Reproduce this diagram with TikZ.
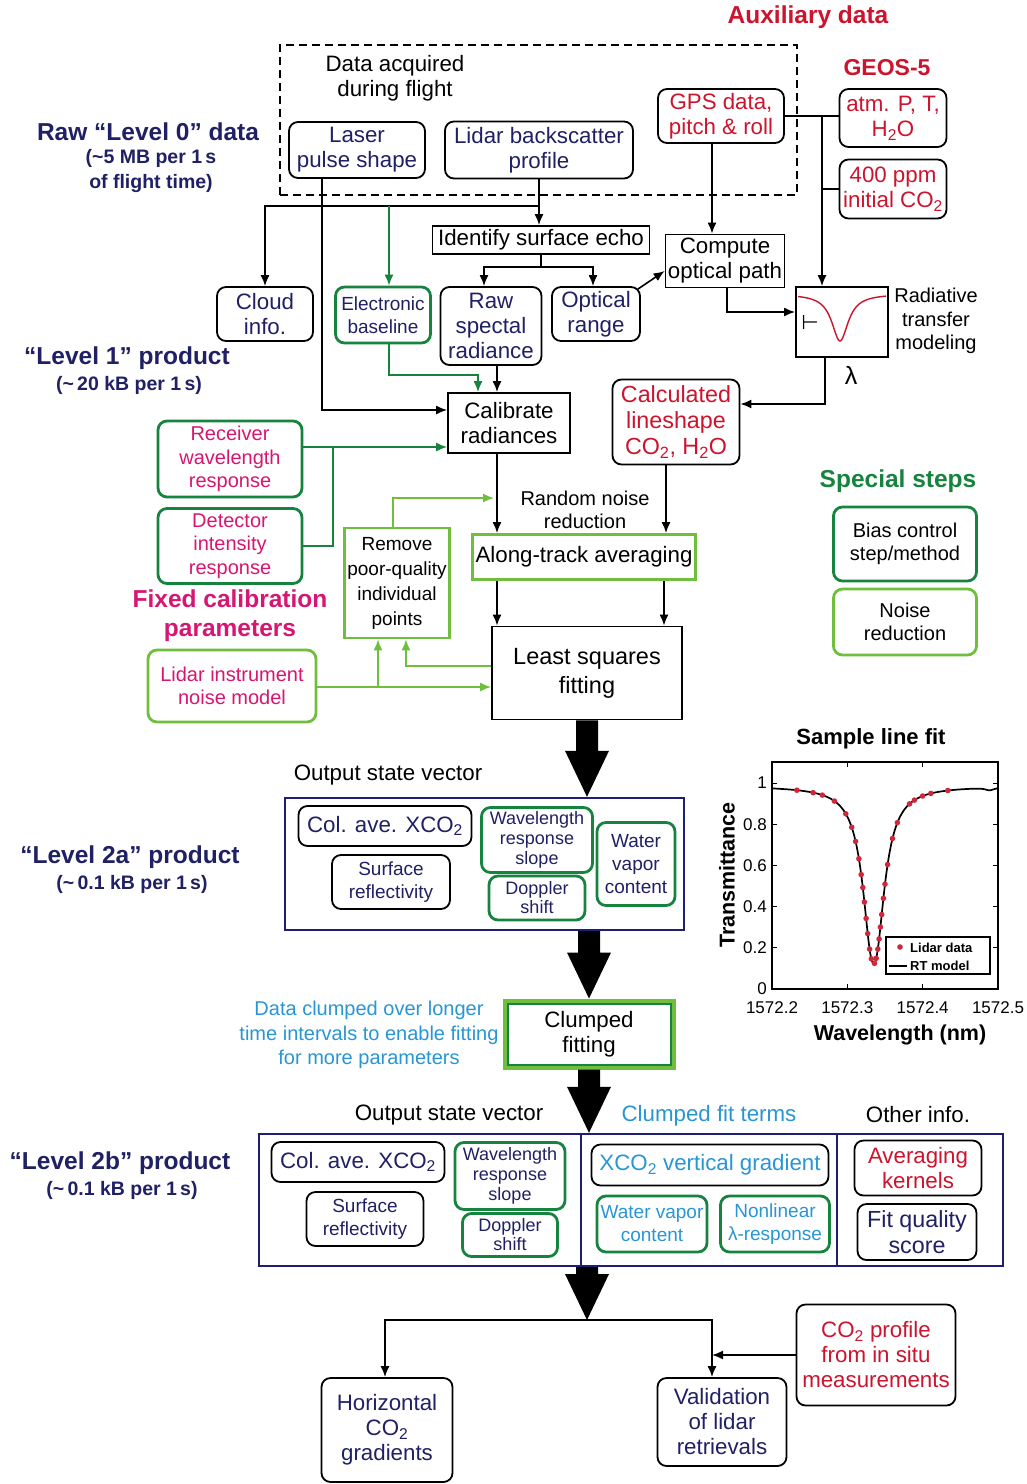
\documentclass[tikz,border=0pt]{standalone}
\usepackage{fontspec}
\setmainfont{Liberation Sans}
\newfontfamily\dejavu{DejaVu Sans}
\usetikzlibrary{arrows.meta,calc}
\definecolor{navy}{RGB}{32,32,100}
\definecolor{auxred}{RGB}{204,20,46}
\definecolor{calmag}{RGB}{214,22,112}
\definecolor{dgreen}{RGB}{22,132,62}
\definecolor{lgreen}{RGB}{112,190,62}
\definecolor{cblue}{RGB}{40,150,212}
\definecolor{boxnavy}{RGB}{30,30,120}
\definecolor{dotred}{RGB}{205,40,60}
\newcommand\mybigarrow[2]{\fill let \p1=(#1), \p2=(#2) in (\x1-11pt,\y1) -- (\x1+11pt,\y1) -- (\x1+11pt,\y2+46pt) -- (\x1+22pt,\y2+46pt) -- (\x1,\y2) -- (\x1-22pt,\y2+46pt) -- (\x1-11pt,\y2+46pt) -- cycle;}
\begin{document}
\begin{tikzpicture}[x=1pt,y=-1pt,
 rb/.style={draw, rounded corners=9pt, line width=1.8pt, align=center, inner sep=0pt},
 sb/.style={draw, line width=1.8pt, align=center, inner sep=0pt},
 gb/.style={rb, draw=dgreen, line width=2.8pt},
 lb/.style={rb, draw=lgreen, line width=2.8pt},
 lsb/.style={sb, draw=lgreen, line width=2.8pt},
 wh/.style 2 args={minimum width=#1pt, minimum height=#2pt},
 tx/.style={align=center, inner sep=0pt},
 arr/.style={line width=1.6pt, -{Latex[length=11pt,width=9pt]}},
 ln/.style={line width=1.6pt},
 garr/.style={arr, dgreen},
 gln/.style={ln, dgreen},
 larr/.style={arr, lgreen},
 f18/.style={font=\fontsize{18}{20}\selectfont},
 f19/.style={font=\fontsize{19}{23}\selectfont},
 f20/.style={font=\fontsize{20}{23.5}\selectfont},
 f22/.style={font=\fontsize{22.3}{25}\selectfont},
 f23/.style={font=\fontsize{23.3}{26}\selectfont},
 hd/.style={tx, font=\fontsize{24.5}{28}\selectfont\bfseries, text=navy},
 hs/.style={tx, font=\fontsize{19.5}{25}\selectfont\bfseries, text=navy},
 bt/.style={tx, font=\fontsize{24.5}{29}\selectfont\bfseries},
 tk/.style={tx, font=\fontsize{17}{17}\selectfont},
 ax/.style={tx, font=\fontsize{21.5}{21.5}\selectfont\bfseries}
]
\useasboundingbox (0,0) rectangle (1027,1484);
\fill[white] (0,0) rectangle (1027,1484);

% ---------- headings
\node[bt, text=auxred] (auxt) at (808,17) {Auxiliary data};
\node[bt, text=auxred, font=\fontsize{23}{23}\selectfont\bfseries] (geos) at (887,68) {GEOS-5};
\node[hd] (h0) at (148,132) {Raw “Level 0” data};
\node[hs] (h0s) at (151,171) {(\textasciitilde5 MB per 1\,s\\of flight time)};
\node[hd] (h1) at (127,358) {“Level 1” product};
\node[hs] (h1s) at (129,385) {(\textasciitilde\,20 kB per 1\,s)};
\node[bt, text=calmag] (fixl) at (230,616) {Fixed calibration\\parameters};
\node[bt, text=dgreen] (spec) at (898,481) {Special steps};
\node[hd] (h2a) at (130,857) {“Level 2a” product};
\node[hs] (h2as) at (132,884) {(\textasciitilde\,0.1 kB per 1\,s)};
\node[hd] (h2b) at (120,1163) {“Level 2b” product};
\node[hs] (h2bs) at (122,1190) {(\textasciitilde\,0.1 kB per 1\,s)};

% ---------- level 0
\node[draw, dash pattern=on 8pt off 5pt, line width=1.8pt, wh={517}{150}, inner sep=0pt] (dbox) at (538.5,120) {};
\node[tx, f22] (daq) at (395,78) {Data acquired\\during flight};
\node[rb, wh={136}{56}, f22, text=navy] (laser) at (357,150) {Laser\\pulse shape};
\node[rb, wh={188}{57}, f22, text=navy] (lidar) at (539,150) {Lidar backscatter\\profile};
\node[rb, wh={126}{54}, f22, text=auxred] (gps) at (721,116) {GPS data,\\pitch \& roll};
\node[rb, wh={107}{58}, f22, text=auxred] (atm) at (893,118) {atm. P, T,\\H\textsubscript{2}O};
\node[rb, wh={107}{59}, f22, text=auxred] (ppm) at (893,189) {400 ppm\\initial CO\textsubscript{2}};

% ---------- level 1 area
\node[sb, wh={217}{28}, f22] (ident) at (541,240) {Identify surface echo};
\node[rb, wh={96}{54}, f22, text=navy] (cloud) at (265,314) {Cloud\\info.};
\node[gb, wh={95}{56}, f19, text=navy] (ebase) at (383,315) {Electronic\\baseline};
\node[rb, wh={101}{78}, f22, text=navy] (raw) at (491,326) {Raw\\spectal\\radiance};
\node[rb, wh={88}{54}, f22, text=navy] (optr) at (596,314) {Optical\\range};
\node[sb, wh={119}{53}, f22] (comp) at (725,261) {Compute\\optical path};
\node[sb, wh={92}{70}] (rt) at (842,322) {};
\draw[auxred, line width=1.4pt] plot[domain=-42:46, samples=90, smooth] ({840+\x},{294+47*100/(\x*\x+100)});
\node[tx, font={\dejavu\fontsize{20}{20}\selectfont}] (turn) at (810,322) {⊢};
\node[tx, f20] (rtl) at (936,321) {Radiative\\transfer\\modeling};
\node[tx, font=\fontsize{25}{25}\selectfont] (lam) at (851,375) {λ};
\node[rb, wh={127}{85}, f23, text=auxred] (calc) at (676,422) {Calculated\\lineshape\\CO\textsubscript{2}, H\textsubscript{2}O};
\node[sb, wh={122}{60}, f22] (cal) at (509,423) {Calibrate\\radiances};
\node[gb, wh={144}{76}, f20, text=calmag] (recv) at (230,459) {Receiver\\wavelength\\response};
\node[gb, wh={144}{75}, f20, text=calmag] (det) at (230,546) {Detector\\intensity\\response};
\node[tx, f20] (rnr) at (585,510) {Random noise\\reduction};
\node[lsb, wh={105}{110}, font=\fontsize{19}{25}\selectfont] (remove) at (397,583) {Remove\\poor-quality\\individual\\points};
\node[lsb, wh={223}{45}, f22] (along) at (584,557) {Along-track averaging};
\node[sb, wh={190}{93}, font=\fontsize{23.5}{29}\selectfont] (ls) at (587,673) {Least squares\\fitting};
\node[lb, wh={168}{72}, f20, text=calmag] (lnoise) at (232,686) {Lidar instrument\\noise model};
\node[gb, wh={143}{74}, f20] (bias) at (905,544) {Bias control\\step/method};
\node[lb, wh={143}{66}, f20] (nred) at (905,622) {Noise\\reduction};

% ---------- connectors level 0/1
\coordinate (j1) at (539,206);
\coordinate (j3) at (822,116);
\coordinate (j4) at (333,447);
\coordinate (nr) at (494,498);
\draw[arr] (lidar.south) -- (lidar.south |- ident.north);
\draw[arr] (j1) -| (cloud.north);
\draw[garr] ([xshift=6pt]ebase.north |- j1) -- ([xshift=6pt]ebase.north);
\draw[arr] ([xshift=-35pt]laser.south) |- ([yshift=13pt]cal.west);
\draw[ln] (ident.south) -- ([yshift=-12pt]ident.south) coordinate (j2);
\draw[arr] (j2) -| ([xshift=-7pt]raw.north);
\draw[arr] (j2) -| ([xshift=-3pt]optr.north);
\draw[arr] ([shift={(-3pt,-3pt)}]optr.north east) -- ([yshift=-10pt]comp.west);
\draw[arr] ([xshift=-9pt]gps.south) -- ([xshift=-9pt]gps.south |- comp.north);
\draw[ln] (gps.east) -- (gps.east -| atm.west);
\draw[arr] (j3) -- (j3 |- rt.north);
\draw[ln] (ppm.west) -- (ppm.west -| j3);
\draw[arr] ([xshift=2pt]comp.south) |- ([yshift=10pt]rt.west);
\draw[arr] ([xshift=-17pt]rt.south) |- ([yshift=18pt]calc.east);
\draw[arr] ([xshift=-10pt]calc.south) -- ([xshift=-10pt]calc.south |- along.north);
\draw[garr] ([xshift=6pt]ebase.south) |- ([xshift=-31pt,yshift=17pt]cal.north) -- ([xshift=-31pt]cal.north);
\draw[arr] ([xshift=-12pt]cal.north |- raw.south) -- ([xshift=-12pt]cal.north);
\draw[garr] ([yshift=12pt]recv.east) -- ([yshift=-24pt]cal.west);
\draw[gln] (det.east) -| (j4);
\draw[arr] ([xshift=-12pt]cal.south) -- ([xshift=-12pt]cal.south |- along.north);
\draw[larr] ([xshift=-4pt]remove.north) |- (nr);
\draw[arr] ([xshift=-87pt]along.south) -- ([xshift=-87pt]along.south |- ls.north);
\draw[arr] ([xshift=80pt]along.south) -- ([xshift=80pt]along.south |- ls.north);
\draw[larr] ([yshift=-1pt]lnoise.east) -- ([yshift=-1pt]lnoise.east -| ls.west);
\draw[larr] ([xshift=-19pt,yshift=-1pt]remove.south |- lnoise.east) -- ([xshift=-19pt]remove.south);
\draw[larr] ([yshift=7pt]ls.west) -| ([xshift=9pt]remove.south);

% ---------- level 2a
\node[tx, f22] (osv1) at (388,775) {Output state vector};
\node[draw=boxnavy, line width=2.4pt, wh={399}{132}, inner sep=0pt] (l2a) at (484.5,864) {};
\node[rb, wh={173}{40}, f22, text=navy] (cav1) at (385,826) {Col. ave. XCO\textsubscript{2}};
\node[rb, wh={118}{54}, f19, text=navy] (surf1) at (391,882) {Surface\\reflectivity};
\node[gb, wh={111}{65}, f18, text=navy] (wrs1) at (537,840) {Wavelength\\response\\slope};
\node[gb, wh={96}{44}, font=\fontsize{18}{19}\selectfont, text=navy] (dop1) at (537,898) {Doppler\\shift};
\node[gb, wh={78}{83}, f19, text=navy] (wvc1) at (636,864) {Water\\vapor\\content};
\mybigarrow{ls.south}{ls.south |- l2a.north}

% ---------- clumped
\node[sb, draw=lgreen, line width=5pt, wh={168}{66}, f22] (clump) at (589,1034) {Clumped\\fitting};
\draw[dgreen, line width=2pt] ([shift={(5pt,-5pt)}]clump.north west) rectangle ([shift={(-5pt,5pt)}]clump.south east);
\node[tx, font=\fontsize{20}{24.5}\selectfont, text=cblue] (clt) at (369,1035) {Data clumped over longer\\time intervals to enable fitting\\for more parameters};
\mybigarrow{clump.north |- l2a.south}{clump.north}

% ---------- level 2b
\node[tx, f22] (osv2) at (449,1115) {Output state vector};
\node[tx, f22, text=cblue] (cft) at (709,1116) {Clumped fit terms};
\node[tx, f22] (oth) at (918,1115) {Other info.};
\node[draw=boxnavy, line width=2.4pt, wh={744}{132}, inner sep=0pt] (l2b) at (631,1200) {};
\draw[boxnavy, line width=2pt] ([xshift=-50pt]l2b.north) -- ([xshift=-50pt]l2b.south);
\draw[boxnavy, line width=2pt] ([xshift=206pt]l2b.north) -- ([xshift=206pt]l2b.south);
\node[rb, wh={173}{40}, f22, text=navy] (cav2) at (358,1162) {Col. ave. XCO\textsubscript{2}};
\node[rb, wh={117}{54}, f19, text=navy] (surf2) at (365,1219) {Surface\\reflectivity};
\node[gb, wh={110}{67}, f18, text=navy] (wrs2) at (510,1176) {Wavelength\\response\\slope};
\node[gb, wh={95}{43}, font=\fontsize{18}{19}\selectfont, text=navy] (dop2) at (510,1235) {Doppler\\shift};
\node[rb, wh={237}{41}, f22, text=cblue] (grad) at (710,1165) {XCO\textsubscript{2} vertical gradient};
\node[gb, wh={110}{56}, f19, text=cblue] (wv2) at (652,1224) {Water vapor\\content};
\node[gb, wh={109}{56}, f19, text=cblue] (nl2) at (775,1224) {Nonlinear\\λ-response};
\node[rb, wh={127}{55}, f22, text=auxred] (avk) at (918,1168) {Averaging\\kernels};
\node[rb, wh={119}{56}, f23, text=navy] (fitq) at (917,1232) {Fit quality\\score};
\mybigarrow{clump.south}{clump.south |- l2b.north}

% ---------- bottom
\coordinate (j5) at (587,1320);
\mybigarrow{j5 |- l2b.south}{j5}
\node[rb, wh={131}{104}, f22, text=navy] (hco2) at (387,1430) {Horizontal\\CO\textsubscript{2}\\gradients};
\node[rb, wh={129}{88}, f22, text=navy] (valid) at (722,1422) {Validation\\of lidar\\retrievals};
\node[rb, wh={159}{101}, f22, text=auxred] (insitu) at (876,1355) {CO\textsubscript{2} profile\\from in situ\\measurements};
\coordinate (j6) at ([xshift=-10pt]valid.north);
\draw[arr] (j5) -| ([xshift=-2pt]hco2.north);
\draw[arr] (j5) -| (j6);
\draw[arr] (insitu.west) -- (insitu.west -| j6);

% ---------- sample line fit
\node[ax, font=\fontsize{22}{22}\selectfont\bfseries] (sltitle) at (871,739) {Sample line fit};
\draw[line width=1.5pt] (772,762) rectangle (998,989);
\foreach \t/\lab in {0/0,0.2/0.2,0.4/0.4,0.6/0.6,0.8/0.8,1/1}{
  \draw[line width=1pt] (772,{989-206*\t}) -- (777,{989-206*\t});
  \draw[line width=1pt] (998,{989-206*\t}) -- (993,{989-206*\t});
  \node[tk, anchor=east] at (767,{989-206*\t}) {\lab};
}
\foreach \xx/\lab in {772/1572.2,847.3/1572.3,922.7/1572.4,998/1572.5}{
  \draw[line width=1pt] (\xx,989) -- (\xx,984);
  \draw[line width=1pt] (\xx,762) -- (\xx,767);
  \node[tk] at (\xx,1008) {\lab};
}
\draw[line width=1.7pt] plot[domain=-10.17:12.43, samples=200, smooth] ({873.7+10*\x},{989-206*(exp(-(0.015+1.233/(\x*\x+0.59))) - 0.012/(1+(\x-11.6)*(\x-11.6)*4))});
\foreach \v in {-7.69,-6.06,-5.14,-3.93,-2.79,-2.20,-1.81,-1.48,-1.25,-1.09,-0.93,-0.76,-0.60,-0.41,-0.24,0.08,0.25,0.41,0.54,0.67,0.80,0.97,1.13,1.39,1.88,2.37,3.58,4.07,4.89,5.71,7.41}{
  \fill[dotred] ({873.7+10*\v},{989-206*exp(-(0.015+1.233/(\v*\v+0.59)))}) circle (2.8pt);
}
\draw[line width=1.2pt, fill=white] (886,937) rectangle (990,974);
\fill[dotred] (900,947) circle (2.8pt);
\node[anchor=west, inner sep=0pt, font=\fontsize{13}{13}\selectfont\bfseries] (lg1) at (910,948) {Lidar data};
\draw[line width=1.6pt] (889,966) -- (907,966);
\node[anchor=west, inner sep=0pt, font=\fontsize{13}{13}\selectfont\bfseries] (lg2) at (910,966) {RT model};
\node[ax, rotate=90] (ylab) at (727,875) {Transmittance};
\node[ax] (xlab) at (900,1035) {Wavelength (nm)};
\end{tikzpicture}
\end{document}
